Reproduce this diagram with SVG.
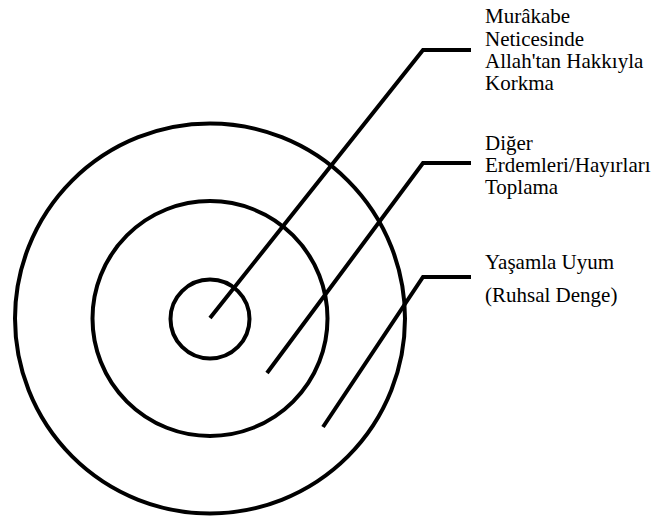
<svg xmlns="http://www.w3.org/2000/svg" width="653" height="517" viewBox="0 0 653 517">
<style>
.c{fill:none;stroke:#000;stroke-width:4}
.l{fill:none;stroke:#000;stroke-width:4;stroke-linejoin:miter}
</style>
<rect width="653" height="517" fill="#fff"/>
<g id="outer"><circle class="c" cx="210" cy="318.5" r="195"/></g>
<g id="middle"><circle class="c" cx="210" cy="318.5" r="117.5"/></g>
<g id="inner"><circle class="c" cx="210" cy="319" r="39.5"/></g>
<g id="connectors">
<polyline class="l" points="210,318 423,50 471,50"/>
<polyline class="l" points="267,373 423,163 471,163"/>
<polyline class="l" points="323,427 423,277 471,277"/>
</g>
<g id="label1" font-family="Liberation Serif" font-size="21" fill="#000">
<text x="485" y="23">Murâkabe</text>
<text x="485" y="46">Neticesinde</text>
<text x="485" y="68">Allah'tan Hakkıyla</text>
<text x="485" y="90">Korkma</text>
</g>
<g id="label2" font-family="Liberation Serif" font-size="21" fill="#000">
<text x="485" y="150">Diğer</text>
<text x="485" y="172">Erdemleri/Hayırları</text>
<text x="485" y="194">Toplama</text>
</g>
<g id="label3" font-family="Liberation Serif" font-size="21" fill="#000">
<text x="485" y="269">Yaşamla Uyum</text>
<text x="485" y="302">(Ruhsal Denge)</text>
</g>
</svg>
